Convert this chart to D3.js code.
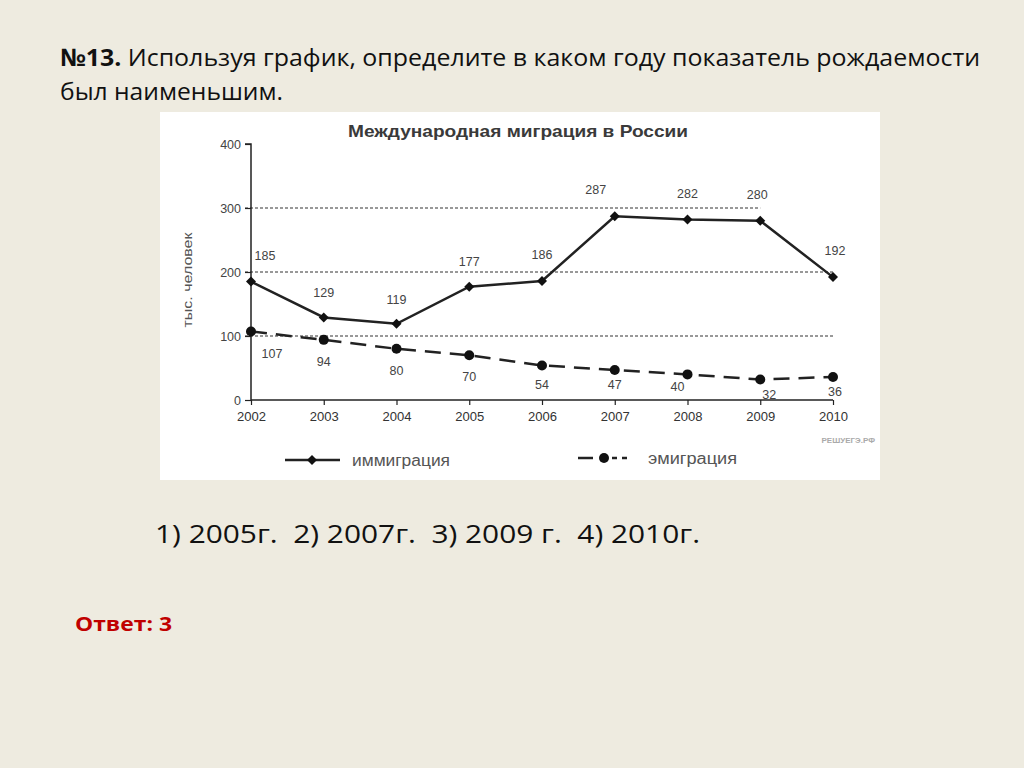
<!DOCTYPE html>
<html><head><meta charset="utf-8">
<script src="https://cdn.jsdelivr.net/npm/d3@7"></script>
<style>html,body{margin:0;padding:0;background:#EEEBE0;}svg{display:block;}</style>
</head><body>
<svg id="c" width="1024" height="768"></svg>
<script>
const years = [2002,2003,2004,2005,2006,2007,2008,2009,2010];
const immigration = [185,129,119,177,186,287,282,280,192];
const emigration = [107,94,80,70,54,47,40,32,36];
const yTicks = [0,100,200,300,400];
const gridVals = [100,200,300];
const questionLine1 = "Используя график, определите в каком году показатель рождаемости";
const questionLine2 = "был наименьшим.";
const options = "1) 2005г.  2) 2007г.  3) 2009 г.  4) 2010г.";
const answer = "Ответ: 3";

const svg = d3.select("#c");
const bodyFont = "'Open Sans', 'Noto Sans', sans-serif";
const chartFont = "'Liberation Sans', Arial, sans-serif";

// Heading
const h = svg.append("text").attr("x",60).attr("y",66).attr("font-family",bodyFont).attr("font-size",24).attr("fill","#111")
  .attr("textLength",920).attr("lengthAdjust","spacingAndGlyphs");
h.append("tspan").attr("font-weight","bold").text("№13. ");
h.append("tspan").text(questionLine1);
svg.append("text").attr("x",60).attr("y",100).attr("font-family",bodyFont).attr("font-size",24).attr("fill","#111")
  .attr("textLength",223).attr("lengthAdjust","spacingAndGlyphs").text(questionLine2);

// White panel
svg.append("rect").attr("x",160).attr("y",112).attr("width",720).attr("height",368).attr("fill","#fff");

const x = d3.scaleLinear().domain([2002,2010]).range([251,833]);
const y = d3.scaleLinear().domain([0,400]).range([400,144]);

// title
svg.append("text").attr("x",348).attr("y",137).attr("font-family",chartFont)
  .attr("font-size",17).attr("font-weight","bold").attr("fill","#3a3a3a")
  .attr("textLength",340).attr("lengthAdjust","spacingAndGlyphs").text("Международная миграция в России");

// gridlines
svg.append("g").selectAll("line").data(gridVals).join("line")
  .attr("x1",245).attr("x2",d=> d===300 ? x(2009) : x(2010))
  .attr("y1",d=>y(d)).attr("y2",d=>y(d))
  .attr("stroke","#333").attr("stroke-width",1).attr("stroke-dasharray","3,2");

// axes
const yAxis = d3.axisLeft(y).tickValues(yTicks).tickSize(6).tickPadding(4);
const gy = svg.append("g").attr("transform",`translate(${x(2002)},0)`).call(yAxis);
gy.select(".domain").attr("stroke","#222").attr("stroke-width",1.5).attr("d",`M-6,${y(400)}H0V${y(0)}`);
gy.selectAll(".tick line").attr("stroke","#222").attr("stroke-width",1.2);
gy.selectAll(".tick text").attr("font-family",chartFont).attr("font-size",12.5).attr("fill","#444");

const xAxis = d3.axisBottom(x).tickValues(years).tickFormat(d3.format("d")).tickSize(5).tickPadding(7);
const gx = svg.append("g").attr("transform",`translate(0,${y(0)})`).call(xAxis);
gx.select(".domain").attr("stroke","#222").attr("stroke-width",1.5).attr("d",`M${x(2002)},0H${x(2010)}`);
gx.selectAll(".tick line").attr("stroke","#222").attr("stroke-width",1.2);
gx.selectAll(".tick text").attr("font-family",chartFont).attr("font-size",12.5).attr("fill","#333")
  .attr("textLength",29).attr("lengthAdjust","spacingAndGlyphs");

// y label
svg.append("text").attr("transform","translate(192,280) rotate(-90)").attr("text-anchor","middle")
  .attr("font-family",chartFont).attr("font-size",12).attr("fill","#555")
  .attr("textLength",95).attr("lengthAdjust","spacingAndGlyphs").text("тыс. человек");

// lines
const line = d3.line().x((d,i)=>x(years[i])).y(d=>y(d));
svg.append("path").datum(immigration).attr("d",line).attr("fill","none").attr("stroke","#222").attr("stroke-width",2.5);
svg.append("path").datum(emigration).attr("d",line).attr("fill","none").attr("stroke","#222").attr("stroke-width",2.5)
  .attr("stroke-dasharray","16,9");

// markers
const diamond = d3.symbol().type(d3.symbolSquare).size(50);
svg.append("g").selectAll("path").data(immigration).join("path")
  .attr("d",diamond).attr("transform",(d,i)=>`translate(${x(years[i])},${y(d)}) rotate(45)`).attr("fill","#111");
svg.append("g").selectAll("circle").data(emigration).join("circle")
  .attr("cx",(d,i)=>x(years[i])).attr("cy",d=>y(d)).attr("r",5).attr("fill","#111");

// value labels
const immDx = [14,0,0,0,0,-19,0,-3,2];
const immDy = [-22,-20,-20,-21,-22,-22,-22,-22,-22];
svg.append("g").selectAll("text").data(immigration).join("text")
  .attr("x",(d,i)=>x(years[i])+immDx[i]).attr("y",(d,i)=>y(d)+immDy[i]).attr("text-anchor","middle")
  .attr("font-family",chartFont).attr("font-size",12.5).attr("fill","#444").text(d=>d);
const emiDx = [21,0,0,0,0,0,-10,9,2];
const emiDy = [26,26,26,26,24,19,17,19,19];
svg.append("g").selectAll("text").data(emigration).join("text")
  .attr("x",(d,i)=>x(years[i])+emiDx[i]).attr("y",(d,i)=>y(d)+emiDy[i]).attr("text-anchor","middle")
  .attr("font-family",chartFont).attr("font-size",12.5).attr("fill","#444").text(d=>d);

// watermark
svg.append("text").attr("x",875).attr("y",443).attr("text-anchor","end").attr("font-family",chartFont)
  .attr("font-size",8).attr("font-weight","bold").attr("fill","#aaa").text("РЕШУЕГЭ.РФ");

// legend
svg.append("line").attr("x1",285).attr("x2",340).attr("y1",460).attr("y2",460).attr("stroke","#222").attr("stroke-width",2.5);
svg.append("path").attr("d",diamond).attr("transform","translate(312,460) rotate(45)").attr("fill","#111");
svg.append("text").attr("x",352).attr("y",466).attr("font-family",chartFont).attr("font-size",16).attr("fill","#555")
  .attr("textLength",98).attr("lengthAdjust","spacingAndGlyphs").text("иммиграция");
svg.append("line").attr("x1",578).attr("x2",593).attr("y1",458).attr("y2",458).attr("stroke","#222").attr("stroke-width",2.5);
svg.append("line").attr("x1",612).attr("x2",628).attr("y1",458).attr("y2",458).attr("stroke","#222").attr("stroke-width",2.5).attr("stroke-dasharray","5,5");
svg.append("circle").attr("cx",604).attr("cy",458).attr("r",5).attr("fill","#111");
svg.append("text").attr("x",648).attr("y",464).attr("font-family",chartFont).attr("font-size",16).attr("fill","#555")
  .attr("textLength",89).attr("lengthAdjust","spacingAndGlyphs").text("эмиграция");

// options
svg.append("text").attr("x",155).attr("y",543).attr("font-family",bodyFont).attr("font-size",26).attr("fill","#111")
  .attr("textLength",545).attr("lengthAdjust","spacingAndGlyphs").style("white-space","pre").text(options);
svg.append("text").attr("x",75).attr("y",631).attr("font-family",bodyFont).attr("font-size",20).attr("font-weight","bold").attr("fill","#C00000")
  .attr("textLength",97).attr("lengthAdjust","spacingAndGlyphs").text(answer);
</script>
</body></html>
